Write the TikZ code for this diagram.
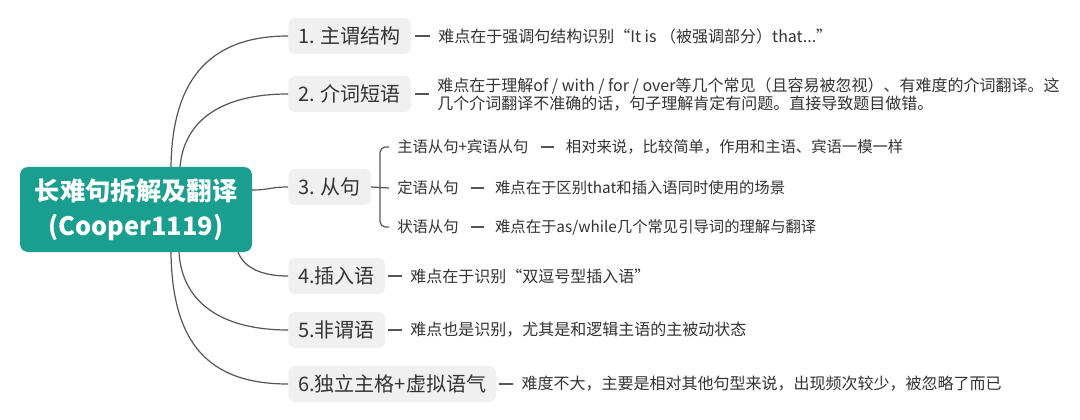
\documentclass[tikz,border=0pt]{standalone}
\usepackage{fontspec}
\setmainfont{Noto Sans CJK SC}
\usetikzlibrary{calc}
\definecolor{rootc}{HTML}{1A9E8F}
\definecolor{boxc}{HTML}{F0F0F0}
\definecolor{linec}{HTML}{555555}
\definecolor{txtc}{HTML}{333333}
\begin{document}
\begin{tikzpicture}[x=0.75pt,y=-0.75pt,
  rootbox/.style={fill=rootc, rounded corners=6pt, text=white,
    font=\fontsize{19}{26}\selectfont\bfseries, align=center,
    minimum width=174pt, minimum height=63.75pt, inner sep=0pt},
  branch/.style={fill=boxc, rounded corners=5pt, text=txtc,
    font=\fontsize{15}{18}\selectfont, anchor=west,
    minimum height=27pt, inner xsep=7.5pt, inner ysep=0pt},
  desc/.style={text=txtc, font=\fontsize{12}{13.5}\selectfont,
    anchor=west, inner sep=0pt, align=left},
  subdesc/.style={text=txtc, font=\fontsize{11.5}{13.5}\selectfont,
    anchor=west, inner sep=0pt, align=left},
  conn/.style={draw=linec, line width=0.9pt},
  tickline/.style={draw=linec, line width=0.8pt},
]
\fill[white] (0,0) rectangle (1080,420);
\useasboundingbox (0,0) rectangle (1080,420);

% root
\node[rootbox] (root) at (136,209.5) {长难句拆解及翻译\\(Cooper1119)};

% branches
\node[branch] (b1) at (288,36) {1. 主谓结构};
\node[branch] (b2) at (288,94) {2. 介词短语};
\node[branch] (b3) at (288,187) {3. 从句};
\node[branch] (b4) at (288,276) {4.插入语};
\node[branch] (b5) at (288,330) {5.非谓语};
\node[branch] (b6) at (288,384) {6.独立主格+虚拟语气};

% connector start points on the root border
\coordinate (s1) at (171,167);
\coordinate (s2) at (180,167);
\coordinate (s3) at (252,190);
\coordinate (s4) at (238,252);
\coordinate (s5) at (179,252);
\coordinate (s6) at (171,252);

\draw[conn] (s1) .. controls (172,85) and (205,36) .. (b1.west);
\draw[conn] (s2) .. controls (184,120) and (222,94) .. (b2.west);
\draw[conn] (s3) .. controls (270,190) and (270,187) .. (b3.west);
\draw[conn] (s4) .. controls (244,268) and (262,276) .. (b4.west);
\draw[conn] (s5) .. controls (182,305) and (225,330) .. (b5.west);
\draw[conn] (s6) .. controls (172,345) and (210,384) .. (b6.west);

% descriptions
\node[desc] (d1) at ($(b1.east)+(27,0)$) {难点在于强调句结构识别“It is （被强调部分）that...”};
\node[desc] (d2) at ($(b2.east)+(26,1)$) {难点在于理解of / with / for / over等几个常见（且容易被忽视）、有难度的介词翻译。这\\几个介词翻译不准确的话，句子理解肯定有问题。直接导致题目做错。};
\node[desc] (d4) at ($(b4.east)+(25,0)$) {难点在于识别“双逗号型插入语”};
\node[desc] (d5) at ($(b5.east)+(25,0)$) {难点也是识别，尤其是和逻辑主语的主被动状态};
\node[desc] (d6) at ($(b6.east)+(25,0)$) {难度不大，主要是相对其他句型来说，出现频次较少，被忽略了而已};

\draw[tickline, shorten <=3pt, shorten >=6.5pt] (b1.east) -- (d1.west |- b1.east);
\draw[tickline, shorten <=3pt, shorten >=6.5pt] (b2.east) -- (d2.west |- b2.east);
\draw[tickline, shorten <=2pt, shorten >=6.5pt] (b4.east) -- (d4.west |- b4.east);
\draw[tickline, shorten <=2pt, shorten >=6.5pt] (b5.east) -- (d5.west |- b5.east);
\draw[tickline, shorten <=2pt, shorten >=6.5pt] (b6.east) -- (d6.west |- b6.east);

% children of branch 3
\node[subdesc] (c1) at (397,147) {主语从句+宾语从句};
\node[subdesc] (c2) at (397,188) {定语从句};
\node[subdesc] (c3) at (397,227) {状语从句};
\draw[conn, rounded corners=4pt] ([xshift=-6pt]c1.west) -- ([xshift=-12.75pt]c1.west)
  -- ([xshift=-12.75pt]c3.west) -- ([xshift=-6pt]c3.west);
\draw[conn] (b3.east) -- ([xshift=-6pt]c2.west);

\node[subdesc] (e1) at ($(c1.east)+(37,0)$) {相对来说，比较简单，作用和主语、宾语一模一样};
\node[subdesc] (e2) at ($(c2.east)+(36,0)$) {难点在于区别that和插入语同时使用的场景};
\node[subdesc] (e3) at ($(c3.east)+(36,0)$) {难点在于as/while几个常见引导词的理解与翻译};

\draw[tickline, shorten <=9pt, shorten >=8.5pt] (c1.east) -- (e1.west);
\draw[tickline, shorten <=9pt, shorten >=8.5pt] (c2.east) -- (e2.west);
\draw[tickline, shorten <=9pt, shorten >=8.5pt] (c3.east) -- (e3.west);
\end{tikzpicture}
\end{document}
